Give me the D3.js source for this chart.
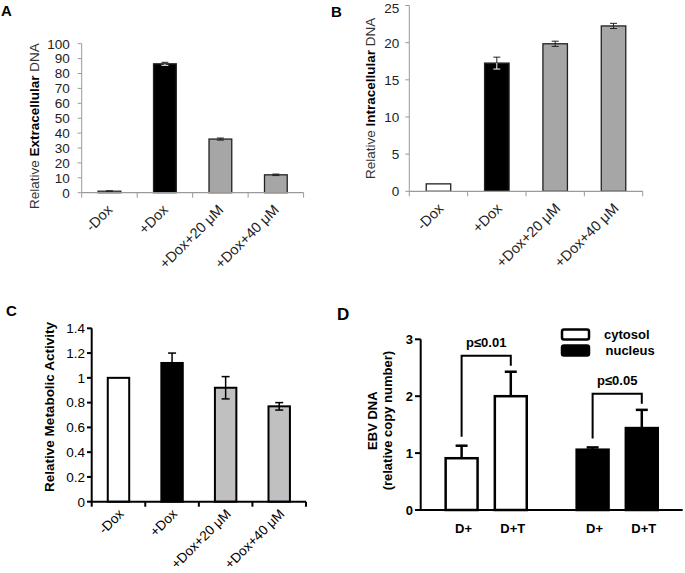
<!DOCTYPE html>
<html><head><meta charset="utf-8">
<script src="https://cdn.jsdelivr.net/npm/d3@7"></script>
<style>
body{margin:0;background:#fff}
svg{display:block}
text{font-family:"Liberation Sans",Arial,sans-serif}
</style>
</head><body>
<svg id="chart" width="685" height="573"></svg>
<script>
// ---------- DATA ----------
const categories = ["-Dox", "+Dox", "+Dox+20 μM", "+Dox+40 μM"];
const extracellular = [1, 86.5, 36, 12];
const extracellularErr = [0.3, 1.0, 0.7, 0.5];
const intracellular = [1, 17.25, 19.85, 22.25];
const intracellularErr = [0, 0.8, 0.35, 0.35];
const metabolic = [1, 1.12, 0.92, 0.77];
const metabolicErr = [0, 0.08, 0.09, 0.03];
const ticksA = [0, 10, 20, 30, 40, 50, 60, 70, 80, 90, 100];
const ticksB = [0, 5, 10, 15, 20, 25];
const ticksC = [0, 0.2, 0.4, 0.6, 0.8, 1, 1.2, 1.4];
const ticksD = [0, 1, 2, 3];
const fractions = ["cytosol", "nucleus"];
const treatments = ["D+", "D+T"];
const cytosol = [0.91, 2.0];
const cytosolErr = [0.22, 0.43];
const nucleus = [1.06, 1.44];
const nucleusErr = [0.04, 0.32];
const pLabels = ["p≤0.01", "p≤0.05"];

const svg = d3.select("#chart");

// ---------- Panels A & B (Excel style) ----------
function excelPanel(o) {
  const g = svg.append("g");
  const x = d3.scaleBand().domain(categories).range(o.xr).padding(0);
  const y = d3.scaleLinear().domain([0, o.ticks[o.ticks.length - 1]]).range(o.yr);
  const axisCol = "#9a9a9a";
  g.append("line").attr("x1", o.xr[0]).attr("x2", o.xr[0]).attr("y1", y(0)).attr("y2", y.range()[1])
    .attr("stroke", axisCol).attr("stroke-width", 1);
  g.selectAll(".yt").data(o.ticks).join("line")
    .attr("x1", o.xr[0] - 4).attr("x2", o.xr[0]).attr("y1", d => y(d)).attr("y2", d => y(d))
    .attr("stroke", axisCol);
  g.selectAll(".yl").data(o.ticks).join("text")
    .attr("x", o.xr[0] - o.labGap).attr("y", d => Math.max(y(d), 8)).attr("dy", "0.36em")
    .attr("text-anchor", "end").attr("font-size", 13.5).attr("fill", "#222").text(d => d);
  const bw = x.bandwidth() * o.barFrac;
  g.selectAll(".bar").data(categories).join("rect")
    .attr("x", d => x(d) + x.bandwidth() / 2 - bw / 2).attr("width", bw)
    .attr("y", (d, i) => y(o.vals[i])).attr("height", (d, i) => y(0) - y(o.vals[i]))
    .attr("fill", (d, i) => o.fills[i]).attr("stroke", "#222").attr("stroke-width", 1.3);
  categories.forEach((d, i) => {
    if (o.errs[i] <= 0) return;
    const cx = x(d) + x.bandwidth() / 2;
    const top = y(o.vals[i] + o.errs[i]), bot = y(o.vals[i] - o.errs[i]), mid = y(o.vals[i]);
    const lowCol = i === 1 ? "#fff" : "#222";
    g.append("line").attr("x1", cx).attr("x2", cx).attr("y1", top).attr("y2", mid)
      .attr("stroke", "#222").attr("stroke-width", 1);
    g.append("line").attr("x1", cx).attr("x2", cx).attr("y1", mid).attr("y2", bot)
      .attr("stroke", lowCol).attr("stroke-width", 1);
    g.append("line").attr("x1", cx - 3.5).attr("x2", cx + 3.5).attr("y1", top).attr("y2", top)
      .attr("stroke", "#222").attr("stroke-width", 1);
    g.append("line").attr("x1", cx - 3.5).attr("x2", cx + 3.5).attr("y1", bot).attr("y2", bot)
      .attr("stroke", lowCol).attr("stroke-width", 1);
  });
  g.append("line").attr("x1", o.xr[0]).attr("x2", o.xr[1]).attr("y1", y(0)).attr("y2", y(0))
    .attr("stroke", axisCol).attr("stroke-width", 1.2);
  const bounds = categories.map(c => x(c)).concat([x.range()[1]]);
  g.selectAll(".xt").data(bounds).join("line")
    .attr("x1", d => d).attr("x2", d => d).attr("y1", y(0)).attr("y2", y(0) + 5)
    .attr("stroke", axisCol);
  g.selectAll(".xl").data(categories).join("text")
    .attr("transform", d => `translate(${x(d) + x.bandwidth() / 2 + o.xlOff[0]},${y(0) + o.xlOff[1]}) rotate(-45)`)
    .attr("text-anchor", "end").attr("font-size", 14.5).attr("fill", "#222").text(d => d);
  const cy = (y(0) + y.range()[1]) / 2 + o.ylShift;
  const t = g.append("text")
    .attr("transform", `translate(${o.ylX},${cy}) rotate(-90)`)
    .attr("text-anchor", "middle").attr("font-size", 13.5).attr("fill", "#333");
  t.append("tspan").text("Relative ");
  t.append("tspan").attr("font-weight", "bold").attr("fill", "#000").text(o.bold);
  t.append("tspan").text(" DNA");
  g.append("text").attr("x", o.letter[0]).attr("y", o.letter[1]).attr("font-size", 15)
    .attr("font-weight", "bold").text(o.letterText);
}

excelPanel({
  xr: [81.7, 303.6], yr: [192.7, 43.7], ticks: ticksA, vals: extracellular, errs: extracellularErr,
  fills: ["#fff", "#000", "#a6a6a6", "#a6a6a6"], barFrac: 0.41, labGap: 12,
  xlOff: [4, 18], ylX: 39, ylShift: 8, bold: "Extracellular", letter: [1, 16], letterText: "A"
});
excelPanel({
  xr: [409.3, 642.7], yr: [191.3, 5.5], ticks: ticksB, vals: intracellular, errs: intracellularErr,
  fills: ["#fff", "#000", "#a6a6a6", "#a6a6a6"], barFrac: 0.42, labGap: 10,
  xlOff: [6, 18], ylX: 375, ylShift: 0, bold: "Intracellular", letter: [331, 17], letterText: "B"
});

// ---------- Panel C ----------
(function () {
  const g = svg.append("g");
  const x = d3.scaleBand().domain(categories).range([91.7, 306]).padding(0);
  const y = d3.scaleLinear().domain([0, 1.4]).range([501.7, 328.3]);
  const fills = ["#fff", "#000", "#c0c0c0", "#c0c0c0"];
  const bw = x.bandwidth() * 0.40;
  g.selectAll(".bar").data(categories).join("rect")
    .attr("x", d => x(d) + x.bandwidth() / 2 - bw / 2).attr("width", bw)
    .attr("y", (d, i) => y(metabolic[i])).attr("height", (d, i) => y(0) - y(metabolic[i]))
    .attr("fill", (d, i) => fills[i]).attr("stroke", "#000").attr("stroke-width", 2);
  categories.forEach((d, i) => {
    if (metabolicErr[i] <= 0) return;
    const cx = x(d) + x.bandwidth() / 2;
    const top = y(metabolic[i] + metabolicErr[i]), bot = y(metabolic[i] - metabolicErr[i]);
    g.append("line").attr("x1", cx).attr("x2", cx).attr("y1", top).attr("y2", bot)
      .attr("stroke", "#000").attr("stroke-width", 1.5);
    [top, bot].forEach(v => g.append("line").attr("x1", cx - 4).attr("x2", cx + 4)
      .attr("y1", v).attr("y2", v).attr("stroke", "#000").attr("stroke-width", 1.5));
  });
  g.append("line").attr("x1", 91.7).attr("x2", 91.7).attr("y1", y(0)).attr("y2", y(1.4))
    .attr("stroke", "#000").attr("stroke-width", 2);
  g.selectAll(".yt").data(ticksC).join("line")
    .attr("x1", 87).attr("x2", 91.7).attr("y1", d => y(d)).attr("y2", d => y(d))
    .attr("stroke", "#000").attr("stroke-width", 2);
  g.selectAll(".yl").data(ticksC).join("text")
    .attr("x", 85).attr("y", d => y(d)).attr("dy", "0.36em").attr("text-anchor", "end")
    .attr("font-size", 13.5).text(d => String(+d.toFixed(1)));
  g.append("line").attr("x1", 90.7).attr("x2", 306).attr("y1", y(0)).attr("y2", y(0))
    .attr("stroke", "#000").attr("stroke-width", 2);
  const bounds = categories.map(c => x(c)).concat([x.range()[1]]);
  g.selectAll(".xt").data(bounds).join("line")
    .attr("x1", d => d).attr("x2", d => d).attr("y1", y(0)).attr("y2", y(0) + 5)
    .attr("stroke", "#000").attr("stroke-width", 2);
  g.selectAll(".xl").data(categories).join("text")
    .attr("transform", d => `translate(${x(d) + x.bandwidth() / 2 + 6},${y(0) + 13}) rotate(-45)`)
    .attr("text-anchor", "end").attr("font-size", 13.5).text(d => d);
  g.append("text").attr("transform", `translate(54,${(y(0) + y(1.4)) / 2 - 8}) rotate(-90)`)
    .attr("text-anchor", "middle").attr("font-size", 13.5).attr("font-weight", "bold")
    .text("Relative Metabolic Activity");
  g.append("text").attr("x", 6).attr("y", 316).attr("font-size", 15).attr("font-weight", "bold").text("C");
})();

// ---------- Panel D ----------
(function () {
  const g = svg.append("g");
  const x0 = d3.scaleBand().domain(fractions).range([420.7, 682.7]).padding(0);
  const x1 = d3.scaleBand().domain(treatments).range([-41.8, 41.8]).paddingInner(0.3).paddingOuter(0);
  const y = d3.scaleLinear().domain([0, 3]).range([510, 339.3]);
  const vals = { cytosol: cytosol, nucleus: nucleus };
  const errs = { cytosol: cytosolErr, nucleus: nucleusErr };
  const fill = { cytosol: "#fff", nucleus: "#000" };
  const cxOf = (f, t) => x0(f) + x0.bandwidth() / 2 + x1(t) + x1.bandwidth() / 2;

  fractions.forEach((f, fi) => {
    treatments.forEach((t, ti) => {
      const v = vals[f][ti], e = errs[f][ti], cx = cxOf(f, t);
      g.append("line").attr("x1", cx).attr("x2", cx).attr("y1", y(v)).attr("y2", y(v + e))
        .attr("stroke", "#000").attr("stroke-width", 2.5);
      g.append("line").attr("x1", cx - 6).attr("x2", cx + 6).attr("y1", y(v + e)).attr("y2", y(v + e))
        .attr("stroke", "#000").attr("stroke-width", 2.5);
      g.append("rect").attr("x", cx - x1.bandwidth() / 2 + 1.25).attr("width", x1.bandwidth() - 2.5)
        .attr("y", y(v)).attr("height", y(0) - y(v))
        .attr("fill", fill[f]).attr("stroke", "#000").attr("stroke-width", 2.5);
      g.append("text").attr("x", cx + 2).attr("y", 533).attr("text-anchor", "middle")
        .attr("font-size", 13).attr("font-weight", "bold").text(t);
    });
    const lx = cxOf(f, treatments[0]), rx = cxOf(f, treatments[1]);
    const lt = y(vals[f][0] + errs[f][0]), rt = y(vals[f][1] + errs[f][1]);
    const top = Math.min(lt, rt) - 16;
    g.append("path").attr("d", `M${lx},${lt - 9}V${top}H${rx}V${rt - 6}`)
      .attr("fill", "none").attr("stroke", "#000").attr("stroke-width", 2);
    g.append("text").attr("x", (lx + rx) / 2).attr("y", top - 9).attr("text-anchor", "middle")
      .attr("font-size", 13).attr("font-weight", "bold").text(pLabels[fi]);
  });
  g.append("line").attr("x1", 420.7).attr("x2", 420.7).attr("y1", y(0)).attr("y2", y(3))
    .attr("stroke", "#000").attr("stroke-width", 2);
  g.selectAll(".yt").data(ticksD).join("line")
    .attr("x1", 415).attr("x2", 420.7).attr("y1", d => y(d)).attr("y2", d => y(d))
    .attr("stroke", "#000").attr("stroke-width", 2);
  g.selectAll(".yl").data(ticksD).join("text")
    .attr("x", 413).attr("y", d => y(d)).attr("dy", "0.36em").attr("text-anchor", "end")
    .attr("font-size", 13).attr("font-weight", "bold").text(d => d);
  g.append("line").attr("x1", 419.7).attr("x2", 682.7).attr("y1", y(0)).attr("y2", y(0))
    .attr("stroke", "#000").attr("stroke-width", 2);
  const cy = (y(0) + y(3)) / 2 - 4;
  g.append("text").attr("transform", `translate(377,${cy}) rotate(-90)`).attr("text-anchor", "middle")
    .attr("font-size", 13).attr("font-weight", "bold").text("EBV DNA");
  g.append("text").attr("transform", `translate(392,${cy}) rotate(-90)`).attr("text-anchor", "middle")
    .attr("font-size", 13).attr("font-weight", "bold").text("(relative copy number)");
  fractions.forEach((f, i) => {
    g.append("rect").attr("x", 562).attr("y", 329.5 + i * 16).attr("width", 27).attr("height", 10)
      .attr("rx", 2).attr("fill", fill[f]).attr("stroke", "#000").attr("stroke-width", 2.5);
    g.append("text").attr("x", 604 + i * 1.5).attr("y", 334.5 + i * 16).attr("dy", "0.36em")
      .attr("font-size", 13).attr("font-weight", "bold").text(f);
  });
  g.append("text").attr("x", 337).attr("y", 320).attr("font-size", 17).attr("font-weight", "bold").text("D");
})();
</script>
</body></html>
